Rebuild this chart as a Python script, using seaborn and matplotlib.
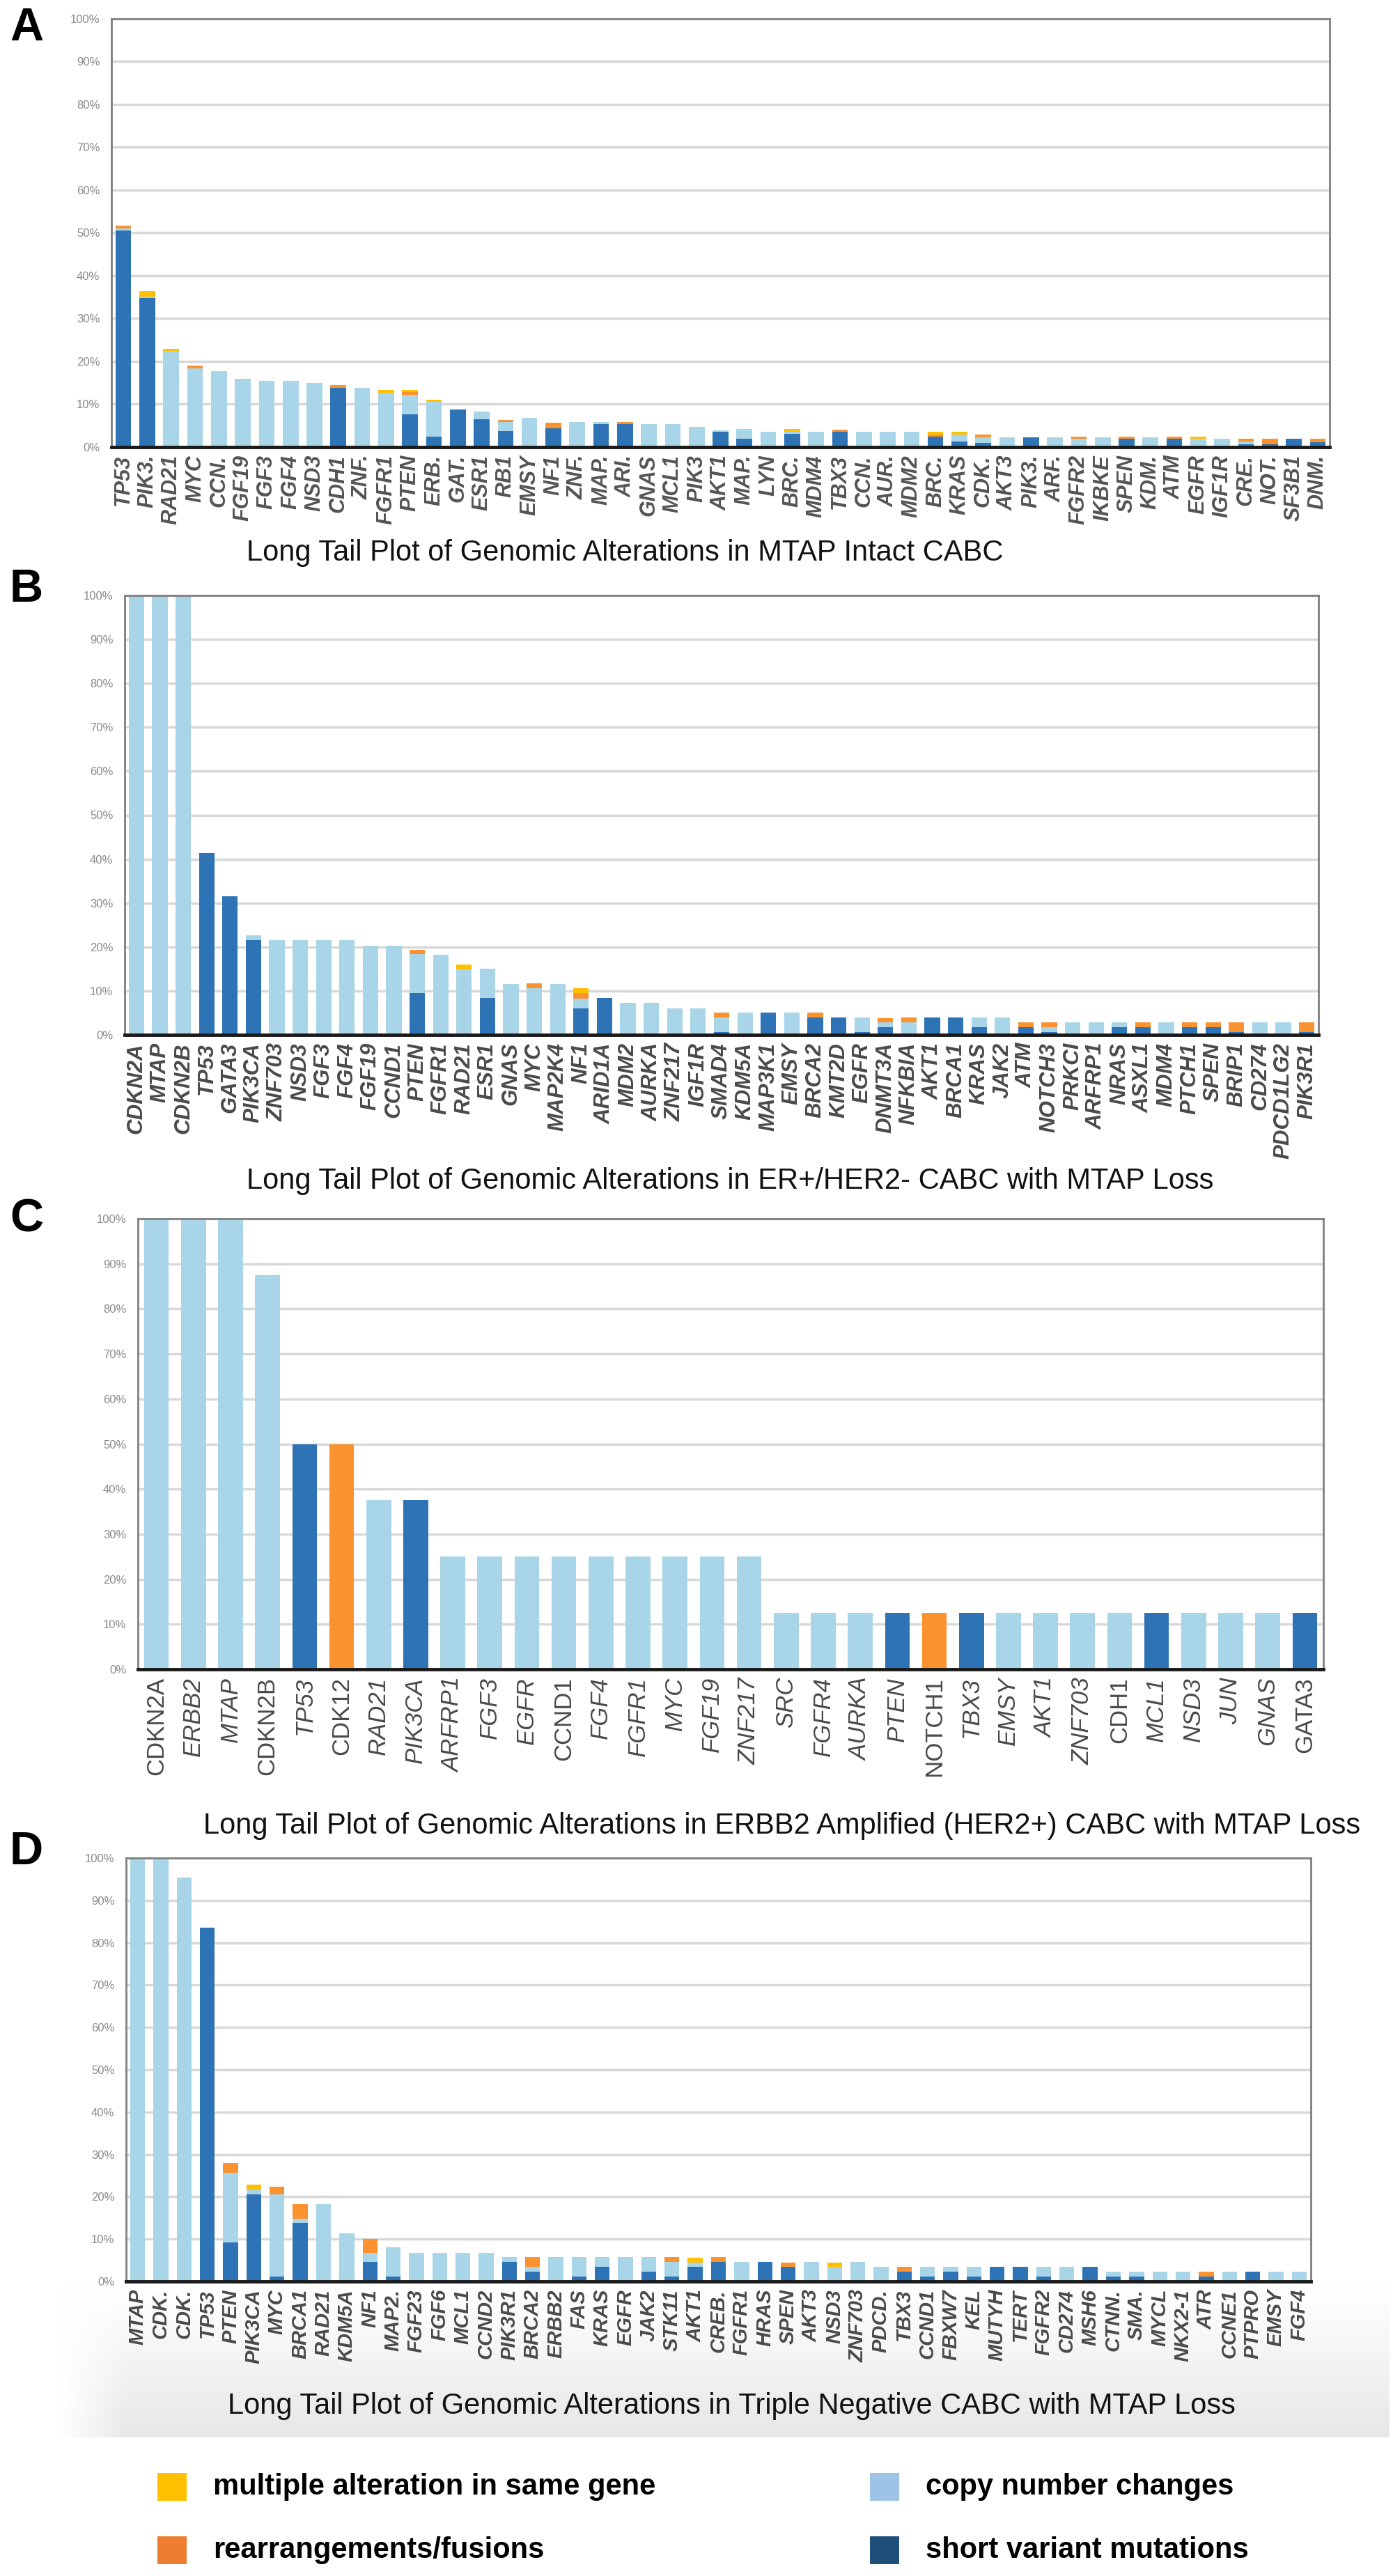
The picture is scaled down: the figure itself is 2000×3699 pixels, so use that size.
import numpy as np
import pandas as pd
import matplotlib
matplotlib.use("Agg")
import matplotlib.pyplot as plt
from matplotlib.patches import Rectangle
import seaborn as sns

# ---------------- DATA ----------------
# Panel A: MTAP intact CABC
a_genes = ["TP53", "PIK3.", "RAD21", "MYC", "CCN.", "FGF19", "FGF3", "FGF4", "NSD3", "CDH1",
           "ZNF.", "FGFR1", "PTEN", "ERB.", "GAT.", "ESR1", "RB1", "EMSY", "NF1", "ZNF.",
           "MAP.", "ARI.", "GNAS", "MCL1", "PIK3", "AKT1", "MAP.", "LYN", "BRC.", "MDM4",
           "TBX3", "CCN.", "AUR.", "MDM2", "BRC.", "KRAS", "CDK.", "AKT3", "PIK3.", "ARF.",
           "FGFR2", "IKBKE", "SPEN", "KDM.", "ATM", "EGFR", "IGF1R", "CRE.", "NOT.", "SF3B1", "DNM."]
a_short = [50.5, 34.8, 0, 0, 0, 0, 0, 0, 0, 13.8,
           0, 0, 7.6, 2.5, 8.7, 6.5, 3.8, 0, 4.4, 0,
           5.3, 5.3, 0, 0, 0, 3.5, 2.0, 0, 3.1, 0,
           3.5, 0, 0, 0, 2.5, 1.3, 0.9, 0, 2.3, 0,
           0, 0, 1.9, 0, 1.9, 0, 0, 0.7, 0.7, 1.9, 1.2]
a_copy = [0.5, 0.4, 22.4, 18.4, 17.8, 16.0, 15.5, 15.5, 14.9, 0,
          13.8, 12.7, 4.6, 8.0, 0, 1.8, 2.0, 6.9, 0, 5.8,
          0.5, 0, 5.3, 5.3, 4.7, 0.4, 2.2, 3.5, 0.4, 3.5,
          0, 3.5, 3.5, 3.5, 0, 1.6, 1.4, 2.3, 0, 2.3,
          1.9, 2.3, 0, 2.3, 0, 1.9, 1.9, 0.6, 0, 0, 0]
a_rearr = [0.7, 0, 0, 0.6, 0, 0, 0, 0, 0, 0.6,
           0, 0, 0.6, 0, 0, 0, 0.6, 0, 1.3, 0,
           0, 0.5, 0, 0, 0, 0, 0, 0, 0, 0,
           0.6, 0, 0, 0, 0.4, 0, 0.6, 0, 0, 0,
           0.6, 0, 0.5, 0, 0.5, 0, 0, 0.6, 1.3, 0, 0.8]
a_multi = [0, 1.2, 0.6, 0, 0, 0, 0, 0, 0, 0,
           0, 0.6, 0.5, 0.6, 0, 0, 0, 0, 0, 0,
           0, 0, 0, 0, 0, 0, 0, 0, 0.7, 0,
           0, 0, 0, 0, 0.7, 0.6, 0, 0, 0, 0,
           0, 0, 0, 0, 0, 0.5, 0, 0, 0, 0, 0]

# Panel B: ER+/HER2- CABC with MTAP loss
b_genes = ["CDKN2A", "MTAP", "CDKN2B", "TP53", "GATA3", "PIK3CA", "ZNF703", "NSD3", "FGF3", "FGF4",
           "FGF19", "CCND1", "PTEN", "FGFR1", "RAD21", "ESR1", "GNAS", "MYC", "MAP2K4", "NF1",
           "ARID1A", "MDM2", "AURKA", "ZNF217", "IGF1R", "SMAD4", "KDM5A", "MAP3K1", "EMSY", "BRCA2",
           "KMT2D", "EGFR", "DNMT3A", "NFKBIA", "AKT1", "BRCA1", "KRAS", "JAK2", "ATM", "NOTCH3",
           "PRKCI", "ARFRP1", "NRAS", "ASXL1", "MDM4", "PTCH1", "SPEN", "BRIP1", "CD274", "PDCD1LG2", "PIK3R1"]
b_short = [0, 0, 0, 41.4, 31.5, 21.6, 0, 0, 0, 0,
           0, 0, 9.5, 0, 0, 8.4, 0, 0, 0, 6.1,
           8.4, 0, 0, 0, 0, 0.7, 0, 5.0, 0, 4.0,
           4.0, 0.7, 1.8, 0, 4.0, 4.0, 1.8, 0, 1.8, 0.7,
           0, 0, 1.8, 1.8, 0, 1.8, 1.8, 0.7, 0, 0, 0.7]
b_copy = [100, 100, 100, 0, 0, 1.1, 21.6, 21.6, 21.6, 21.6,
          20.3, 20.3, 8.9, 18.2, 14.9, 6.6, 11.6, 10.6, 11.6, 2.2,
          0, 7.3, 7.3, 6.1, 6.1, 3.3, 5.0, 0, 5.0, 0,
          0, 3.3, 1.0, 2.9, 0, 0, 2.2, 4.0, 0, 1.1,
          2.8, 2.8, 1.0, 0, 2.8, 0, 0, 0, 2.8, 2.8, 0]
b_rearr = [0, 0, 0, 0, 0, 0, 0, 0, 0, 0,
           0, 0, 1.0, 0, 0, 0, 0, 1.1, 0, 1.2,
           0, 0, 0, 0, 0, 1.0, 0, 0, 0, 1.0,
           0, 0, 1.0, 1.0, 0, 0, 0, 0, 1.0, 1.0,
           0, 0, 0, 1.0, 0, 1.0, 1.0, 2.1, 0, 0, 2.1]
b_multi = [0, 0, 0, 0, 0, 0, 0, 0, 0, 0,
           0, 0, 0, 0, 1.1, 0, 0, 0, 0, 1.1,
           0, 0, 0, 0, 0, 0, 0, 0, 0, 0,
           0, 0, 0, 0, 0, 0, 0, 0, 0, 0,
           0, 0, 0, 0, 0, 0, 0, 0, 0, 0, 0]

# Panel C: ERBB2 amplified (HER2+) CABC with MTAP loss
c_genes = ["CDKN2A", "ERBB2", "MTAP", "CDKN2B", "TP53", "CDK12", "RAD21", "PIK3CA", "ARFRP1", "FGF3",
           "EGFR", "CCND1", "FGF4", "FGFR1", "MYC", "FGF19", "ZNF217", "SRC", "FGFR4", "AURKA",
           "PTEN", "NOTCH1", "TBX3", "EMSY", "AKT1", "ZNF703", "CDH1", "MCL1", "NSD3", "JUN", "GNAS", "GATA3"]
c_short = [0, 0, 0, 0, 50, 0, 0, 37.5, 0, 0,
           0, 0, 0, 0, 0, 0, 0, 0, 0, 0,
           12.5, 0, 12.5, 0, 0, 0, 0, 12.5, 0, 0, 0, 12.5]
c_copy = [100, 100, 100, 87.5, 0, 0, 37.5, 0, 25, 25,
          25, 25, 25, 25, 25, 25, 25, 12.5, 12.5, 12.5,
          0, 0, 0, 12.5, 12.5, 12.5, 12.5, 0, 12.5, 12.5, 12.5, 0]
c_rearr = [0, 0, 0, 0, 0, 50, 0, 0, 0, 0,
           0, 0, 0, 0, 0, 0, 0, 0, 0, 0,
           0, 12.5, 0, 0, 0, 0, 0, 0, 0, 0, 0, 0]
c_multi = [0] * 32
c_upright = ["CDKN2A", "CDKN2B", "CDK12", "CCND1", "NOTCH1", "CDH1", "GATA3"]

# Panel D: triple negative CABC with MTAP loss
d_genes = ["MTAP", "CDK.", "CDK.", "TP53", "PTEN", "PIK3CA", "MYC", "BRCA1", "RAD21", "KDM5A",
           "NF1", "MAP2.", "FGF23", "FGF6", "MCL1", "CCND2", "PIK3R1", "BRCA2", "ERBB2", "FAS",
           "KRAS", "EGFR", "JAK2", "STK11", "AKT1", "CREB.", "FGFR1", "HRAS", "SPEN", "AKT3",
           "NSD3", "ZNF703", "PDCD.", "TBX3", "CCND1", "FBXW7", "KEL", "MUTYH", "TERT", "FGFR2",
           "CD274", "MSH6", "CTNN.", "SMA.", "MYCL", "NKX2-1", "ATR", "CCNE1", "PTPRO", "EMSY", "FGF4"]
d_short = [0, 0, 0, 83.5, 9.2, 20.5, 1.2, 13.8, 0, 0,
           4.6, 1.2, 0, 0, 0, 0, 4.6, 2.3, 0, 1.2,
           3.4, 0, 2.3, 1.2, 3.4, 4.6, 0, 4.6, 3.4, 0,
           0, 0, 0, 2.3, 1.2, 2.3, 1.2, 3.4, 3.4, 1.2,
           0, 3.4, 1.2, 1.2, 0, 0, 1.2, 0, 2.3, 0, 0]
d_copy = [100, 100, 95.4, 0, 16.5, 1.0, 19.4, 1.0, 18.3, 11.4,
          2.2, 6.8, 6.8, 6.8, 6.8, 6.8, 1.1, 1.1, 5.7, 4.5,
          2.3, 5.7, 3.4, 3.4, 1.1, 0, 4.6, 0, 0, 4.6,
          3.4, 4.6, 3.4, 0, 2.3, 1.1, 2.3, 0, 0, 2.3,
          3.4, 0, 1.1, 1.1, 2.3, 2.3, 0, 2.3, 0, 2.3, 2.3]
d_rearr = [0, 0, 0, 0, 2.3, 0, 1.8, 3.5, 0, 0,
           3.3, 0, 0, 0, 0, 0, 0, 2.3, 0, 0,
           0, 0, 0, 1.1, 0, 1.1, 0, 0, 1.1, 0,
           0, 0, 0, 1.1, 0, 0, 0, 0, 0, 0,
           0, 0, 0, 0, 0, 0, 1.1, 0, 0, 0, 0]
d_multi = [0, 0, 0, 0, 0, 1.3, 0, 0, 0, 0,
           0, 0, 0, 0, 0, 0, 0, 0, 0, 0,
           0, 0, 0, 0, 1.1, 0, 0, 0, 0, 0,
           1.1, 0, 0, 0, 0, 0, 0, 0, 0, 0,
           0, 0, 0, 0, 0, 0, 0, 0, 0, 0, 0]

titles = ["Long Tail Plot of Genomic Alterations in MTAP Intact CABC",
          "Long Tail Plot of Genomic Alterations in ER+/HER2- CABC with MTAP Loss",
          "Long Tail Plot of Genomic Alterations in ERBB2 Amplified (HER2+) CABC with MTAP Loss",
          "Long Tail Plot of Genomic Alterations in Triple Negative CABC with MTAP Loss"]
legend_labels = ["multiple alteration in same gene", "rearrangements/fusions",
                 "copy number changes", "short variant mutations"]

# ---------------- STYLE ----------------
sns.set_theme(style="white")
plt.rcParams["font.family"] = ["Liberation Sans", "DejaVu Sans"]

DARK = "#2E73B5"
LIGHT = "#A9D5E8"
ORANGE = "#F9922F"
YELLOW = "#FFC000"
LEG_COLORS = ["#FFC000", "#ED7D31", "#9DC3E6", "#1F4E79"]

W, H = 2000, 3699
fig = plt.figure(figsize=(W / 100, H / 100), dpi=100)
fig.patch.set_facecolor("white")


def fig_axes(left, right, top, bottom, **kw):
    return fig.add_axes([left / W, 1 - bottom / H, (right - left) / W, (bottom - top) / H], **kw)


# soft grey gradient behind panel D's labels
gax = fig_axes(86, 1995, 3280, 3500, zorder=-5)
vy = np.linspace(0, 1, 120)[:, None] ** 1.1
hx = np.clip(np.linspace(0, 1, 400)[None, :] / 0.05, 0, 1)
grad = 1 - 0.095 * vy * hx
gax.imshow(np.dstack([grad, grad, grad]), aspect="auto", extent=[0, 1, 0, 1], vmin=0, vmax=1)
gax.axis("off")


def draw_panel(box, genes, short, copy, rearr, multi, width, lab_size, lab_weight, lab_color,
               upright=(), lab_pad=8):
    ax = fig_axes(*box)
    n = len(genes)
    df = pd.DataFrame({"pos": np.arange(n), "short": short, "copy": copy,
                       "rearr": rearr, "multi": multi})
    df["c1"] = df["short"]
    df["c2"] = df["c1"] + df["copy"]
    df["c3"] = df["c2"] + df["rearr"]
    df["c4"] = df["c3"] + df["multi"]
    for col, colr in [("c4", YELLOW), ("c3", ORANGE), ("c2", LIGHT), ("c1", DARK)]:
        sns.barplot(data=df, x="pos", y=col, color=colr, width=width, errorbar=None,
                    saturation=1, linewidth=0, ax=ax)
    ax.set_xlim(-0.5, n - 0.5)
    ax.set_ylim(0, 100)
    ax.set_xlabel("")
    ax.set_ylabel("")
    ax.set_yticks(np.arange(0, 101, 10))
    ax.set_yticklabels([f"{v}%" for v in range(0, 101, 10)], fontsize=12, color="#8a8a8a")
    ax.set_xticks(np.arange(n))
    ax.set_xticklabels(genes, rotation=90, fontsize=lab_size, fontweight=lab_weight,
                       color=lab_color)
    for t in ax.get_xticklabels():
        t.set_fontstyle("normal" if t.get_text() in upright else "italic")
    ax.tick_params(axis="both", length=0)
    ax.tick_params(axis="y", pad=12)
    ax.tick_params(axis="x", pad=lab_pad)
    ax.yaxis.grid(True, color="#d8d8d8", linewidth=2.5)
    ax.xaxis.grid(False)
    ax.set_axisbelow(True)
    for s in ["top", "right", "left"]:
        ax.spines[s].set_color("#7f7f7f")
        ax.spines[s].set_linewidth(2)
    ax.spines["bottom"].set_color("#1a1a1a")
    ax.spines["bottom"].set_linewidth(3.5)
    return ax


draw_panel((160, 1909, 27, 642), a_genes, a_short, a_copy, a_rearr, a_multi,
           0.66, 22, "bold", "#555555")
draw_panel((179, 1893, 855, 1486), b_genes, b_short, b_copy, b_rearr, b_multi,
           0.66, 22.5, "bold", "#4a4a4a")
draw_panel((198, 1900, 1750, 2397), c_genes, c_short, c_copy, c_rearr, c_multi,
           0.67, 25, "normal", "#4a4a4a", upright=c_upright)
draw_panel((181, 1882, 2668, 3276), d_genes, d_short, d_copy, d_rearr, d_multi,
           0.64, 21, "bold", "#4a4a4a")

# panel titles
for (x, y), t in zip([(354, 794), (354, 1696), (292, 2622), (327, 3455)], titles):
    fig.text(x / W, 1 - y / H, t, fontsize=30, color="#111111", ha="left", va="center")

# panel letters
for (x, y), t in zip([(38, 41), (38, 847), (38, 1752), (38, 2660)], "ABCD"):
    fig.text(x / W, 1 - y / H, t, fontsize=48, fontweight="bold", color="black",
             ha="center", va="center")

# legend
legend_pos = [(226, 3571), (226, 3662), (1249, 3571), (1249, 3662)]
for (x, y), lab, colr in zip(legend_pos, legend_labels, LEG_COLORS):
    fig.add_artist(Rectangle((x / W, 1 - (y + 20) / H), 42 / W, 40 / H,
                             transform=fig.transFigure, facecolor=colr, edgecolor="none"))
    fig.text((x + 80) / W, 1 - y / H, lab, fontsize=30, fontweight="bold", color="black",
             ha="left", va="center")

fig.savefig("out.png", dpi=100, facecolor="white")
